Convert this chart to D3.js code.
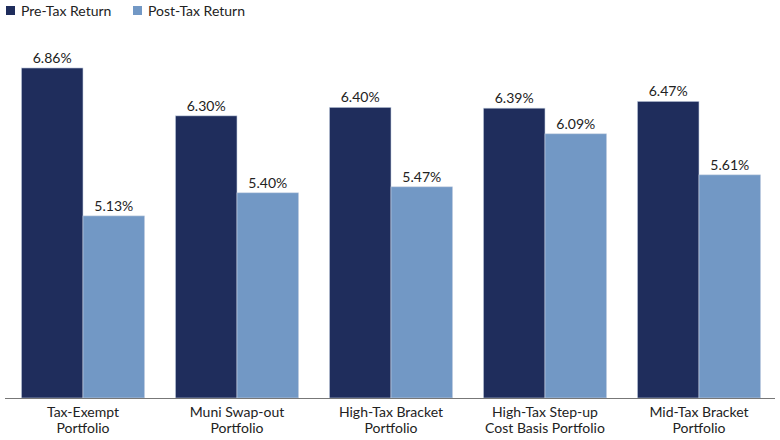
<!DOCTYPE html>
<html><head><meta charset="utf-8">
<script src="https://cdn.jsdelivr.net/npm/d3@7"></script>
<style>body{margin:0;background:#fff}svg{display:block;font-family:Lato,"Open Sans",sans-serif}</style>
</head><body>
<svg id="c" width="780" height="440"></svg>
<script>
const categories = [["Tax-Exempt","Portfolio"],["Muni Swap-out","Portfolio"],["High-Tax Bracket","Portfolio"],["High-Tax Step-up","Cost Basis Portfolio"],["Mid-Tax Bracket","Portfolio"]];
const seriesNames = ["Pre-Tax Return","Post-Tax Return"];
const preTax = [6.86, 6.30, 6.40, 6.39, 6.47];
const postTax = [5.13, 5.40, 5.47, 6.09, 5.61];
const colors = ["#1f2d5c","#7298c5"];
const yDomain = [3, 7];

const svg = d3.select("#c");
const keys = categories.map(c => c.join(" "));
const x = d3.scaleBand().domain(keys).range([6, 776]).paddingInner(0.2).paddingOuter(0.1);
const x1 = d3.scaleBand().domain([0,1]).range([0, x.bandwidth()]);
const y = d3.scaleLinear().domain(yDomain).range([398, 56]);
const series = [preTax, postTax];

series.forEach((vals, si) => {
  const g = svg.append("g");
  g.selectAll("rect").data(vals).join("rect")
    .attr("x", (d,i) => x(keys[i]) + x1(si))
    .attr("y", d => y(d))
    .attr("width", x1.bandwidth())
    .attr("height", d => y(yDomain[0]) - y(d))
    .attr("fill", colors[si])
    .attr("stroke", "#c9d3e3").attr("stroke-width", 0.6);
  g.selectAll("text").data(vals).join("text")
    .attr("x", (d,i) => x(keys[i]) + x1(si) + x1.bandwidth()/2)
    .attr("y", d => y(d) - 5)
    .attr("text-anchor", "middle")
    .attr("font-size", 14).attr("fill", "#222")
    .text(d => d.toFixed(2) + "%");
});

svg.append("line").attr("x1", 5).attr("x2", 775)
  .attr("y1", y(yDomain[0]) + 0.5).attr("y2", y(yDomain[0]) + 0.5)
  .attr("stroke", "#777").attr("stroke-width", 1);

const xl = svg.append("g");
categories.forEach((c, i) => {
  const t = xl.append("text").attr("text-anchor", "middle").attr("font-size", 14).attr("fill", "#222");
  c.forEach((line, li) => {
    t.append("tspan").attr("x", x(keys[i]) + x.bandwidth()/2).attr("y", 417 + li*16).text(line);
  });
});

const legendX = [6, 133];
seriesNames.forEach((n, i) => {
  svg.append("rect").attr("x", legendX[i]).attr("y", 6).attr("width", 9).attr("height", 9).attr("fill", colors[i]);
  svg.append("text").attr("x", legendX[i] + 15).attr("y", 16).attr("font-size", 14).attr("fill", "#222").text(n);
});
</script>
</body></html>
